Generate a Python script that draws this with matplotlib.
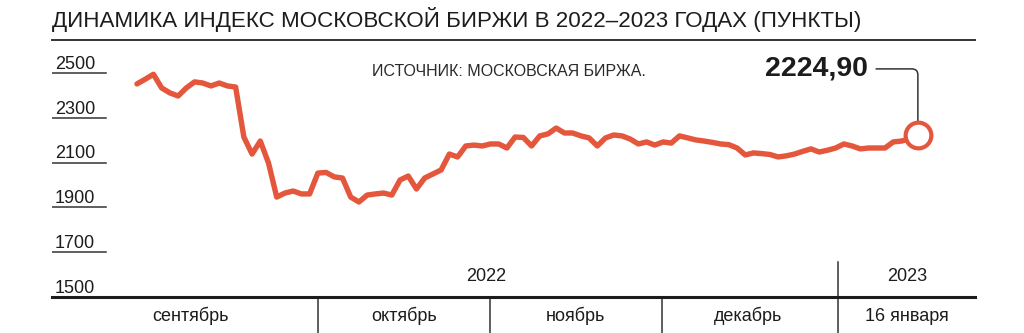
import matplotlib
matplotlib.use('Agg')
import matplotlib.pyplot as plt
import matplotlib.transforms as mtransforms
from matplotlib import font_manager

# MOEX index closes by trading day, 1 Sep 2022 .. 16 Jan 2023
index_values = [2451, 2472, 2494, 2433, 2411, 2397, 2433, 2460, 2455, 2442,
                2455, 2442, 2437, 2214, 2138, 2196, 2098, 1946, 1964, 1973,
                1960, 1960, 2053, 2056, 2036, 2031, 1946, 1924, 1955, 1960,
                1964, 1955, 2022, 2040, 1982, 2031, 2049, 2067, 2138, 2125,
                2174, 2178, 2174, 2183, 2183, 2165, 2214, 2212, 2174, 2219,
                2228, 2254, 2232, 2232, 2219, 2210, 2174, 2210, 2223, 2219,
                2205, 2183, 2192, 2178, 2192, 2187, 2219, 2210, 2201, 2196,
                2190, 2183, 2180, 2165, 2134, 2143, 2140, 2136, 2125, 2130,
                2138, 2150, 2161, 2147, 2155, 2165, 2183, 2174, 2161, 2165,
                2165, 2165, 2192, 2196, 2205, 2224.9]
last_label = '2224,90'

y_ticks = [1500, 1700, 1900, 2100, 2300, 2500]
months = ['сентябрь', 'октябрь', 'ноябрь', 'декабрь', '16 января']
month_centers = [6.5, 32.5, 53.3, 74.3, 93.7]
month_starts = [22, 42.9, 63.9]      # first trading day of oct, nov, dec
year_start = 85.3                    # first trading day of 2023
years = ['2022', '2023']
year_centers = [42.5, 93.7]

title = 'ДИНАМИКА ИНДЕКС МОСКОВСКОЙ БИРЖИ В 2022–2023 ГОДАХ (ПУНКТЫ)'
source = 'ИСТОЧНИК: МОСКОВСКАЯ БИРЖА.'

RED = '#e4573d'
INK = '#1c1c1c'

names = {f.name for f in font_manager.fontManager.ttflist}
narrow = 'Liberation Sans Narrow' if 'Liberation Sans Narrow' in names else 'Liberation Sans'
plt.rcParams['font.family'] = [narrow, 'DejaVu Sans']

W, H = 1024, 333
fig = plt.figure(figsize=(W / 100, H / 100), dpi=100)
ax = fig.add_axes([52 / W, 36 / H, 923 / W, 257 / H])
ax.set_xlim(-10.34, 101.95)
ax.set_ylim(1500, 2647)
ax.set_xticks([])
ax.set_yticks([])
for s in ['left', 'right']:
    ax.spines[s].set_visible(False)
ax.spines['top'].set_linewidth(1.4)
ax.spines['top'].set_color('#333333')
ax.spines['bottom'].set_linewidth(2.2)
ax.spines['bottom'].set_color(INK)

# y labels sitting on short rules
lab_tr = mtransforms.offset_copy(
    mtransforms.blended_transform_factory(ax.transAxes, ax.transData),
    fig=fig, x=0, y=3, units='points')
for t in y_ticks:
    ax.text(0.003, t, str(t), transform=lab_tr, ha='left', va='baseline',
            fontsize=13, color=INK)
    if t != y_ticks[0]:
        ax.axhline(t, xmin=0, xmax=54 / 923, color='#333333', lw=1.1)

# the series
x = list(range(len(index_values)))
ax.plot(x, index_values, color=RED, lw=3.9, solid_joinstyle='round',
        solid_capstyle='round')
ax.plot(x[-1], index_values[-1], 'o', ms=18.5, mfc='white', mec=RED, mew=3,
        zorder=5)

ax.annotate(last_label, xy=(x[-1], index_values[-1]), xytext=(88.9, 2518),
            ha='right', va='center', fontsize=20.5, fontweight='bold',
            family='Liberation Sans', color=INK,
            arrowprops=dict(arrowstyle='-', color='#333333', lw=1.1,
                            connectionstyle='angle,angleA=0,angleB=90,rad=6',
                            shrinkA=4, shrinkB=0))

# bottom band: years and months
bt = mtransforms.blended_transform_factory(ax.transData, ax.transAxes)
for xs in month_starts:
    ax.plot([xs, xs], [0, -0.145], transform=bt, color='#333333', lw=1.1,
            clip_on=False)
ax.plot([year_start, year_start], [0.136, -0.145], transform=bt,
        color='#333333', lw=1.1, clip_on=False)
for c, m in zip(month_centers, months):
    ax.text(c, -0.075, m, transform=bt, ha='center', va='center',
            fontsize=13, color=INK)
for c, yr in zip(year_centers, years):
    ax.text(c, 0.078, yr, transform=bt, ha='center', va='center',
            fontsize=13, color=INK)

fig.text(52 / W, 1 - 20 / H, title, ha='left', va='center', fontsize=16.1,
         color=INK)
fig.text(509 / W, 1 - 72 / H, source, ha='center', va='center', fontsize=11.5,
         family='Liberation Sans', color='#2a2a2a')

fig.savefig('out.png', dpi=100, facecolor='white')
